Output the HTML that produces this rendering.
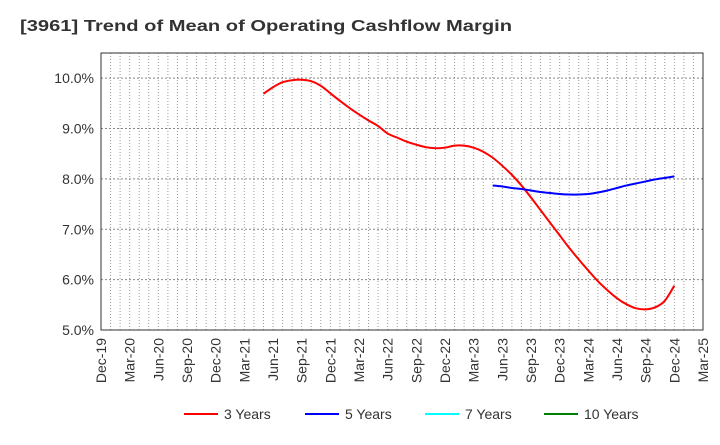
<!DOCTYPE html>
<html><head><meta charset="utf-8"><style>
body{margin:0;background:#fff;font-family:"Liberation Sans",sans-serif}
svg text{font-family:"Liberation Sans",sans-serif}
</style></head><body>
<svg id="chart" width="720" height="440">
<text x="20" y="31" font-size="16" font-weight="bold" fill="#333" textLength="492" lengthAdjust="spacingAndGlyphs">[3961]  Trend of Mean of Operating Cashflow Margin</text>
<g id="grid"></g><g id="axes"></g><g id="series"></g><g id="legend"></g>
</svg>
<script>
const xLabels=["Dec-19","Mar-20","Jun-20","Sep-20","Dec-20","Mar-21","Jun-21","Sep-21","Dec-21","Mar-22","Jun-22","Sep-22","Dec-22","Mar-23","Jun-23","Sep-23","Dec-23","Mar-24","Jun-24","Sep-24","Dec-24","Mar-25"];
const yTicks=[5,6,7,8,9,10];
const yTickLabels=["5.0%","6.0%","7.0%","8.0%","9.0%","10.0%"];
const seriesNames=["3 Years","5 Years","7 Years","10 Years"];
const seriesColors=["#ff0000","#0000ff","#00ffff","#008000"];
const red3Start=17;
const red3=[9.69,9.82,9.92,9.96,9.97,9.94,9.85,9.70,9.55,9.41,9.28,9.16,9.05,8.90,8.82,8.74,8.68,8.63,8.61,8.62,8.66,8.66,8.62,8.54,8.42,8.26,8.08,7.87,7.63,7.38,7.13,6.88,6.63,6.40,6.18,5.97,5.79,5.63,5.51,5.43,5.41,5.45,5.58,5.88];
const blue5Start=41;
const blue5=[7.87,7.85,7.82,7.80,7.77,7.74,7.72,7.70,7.69,7.69,7.70,7.73,7.77,7.82,7.87,7.91,7.95,7.99,8.02,8.05];
const L=101,R=703,T=53,B=330,yMin=5,yMax=10.5,months=63;
const X=m=>L+(R-L)*m/months, Y=v=>B-(B-T)*(v-yMin)/(yMax-yMin);
const ns="http://www.w3.org/2000/svg";
function mk(p,t,a){const e=document.createElementNS(ns,t);for(const k in a)e.setAttribute(k,a[k]);p.appendChild(e);return e;}
const grid=document.getElementById('grid'),axes=document.getElementById('axes'),ser=document.getElementById('series'),leg=document.getElementById('legend');
for(let m=1;m<months;m++){const l=mk(grid,'line',{x1:X(m),x2:X(m),y1:T,y2:B,stroke:'#999','stroke-dasharray':'1,2','stroke-width':1});

}
yTicks.forEach((v,i)=>{const l=mk(grid,'line',{x1:L,x2:R,y1:Y(v),y2:Y(v),stroke:'#888','stroke-dasharray':'2,2'});


const t=mk(axes,'text',{x:L-7,y:Y(v)+5,'text-anchor':'end','font-size':14,fill:'#333'});t.textContent=yTickLabels[i];

});
const fr=mk(axes,'rect',{x:L,y:T,width:R-L,height:B-T,fill:'none',stroke:'#333'});


xLabels.forEach((s,i)=>{const x=X(i*3);const t=mk(axes,'text',{x:x+5,y:B+8,'text-anchor':'end','font-size':14,fill:'#333',transform:`rotate(-90 ${x+5} ${B+8})`});t.textContent=s;

});
function path(vals,start){const p=vals.map((v,i)=>[X(start+i),Y(v)]);let d=`M${p[0][0]},${p[0][1]}`;
for(let i=0;i<p.length-1;i++){const p0=p[i-1]||p[i],p1=p[i],p2=p[i+1],p3=p[i+2]||p2;
d+=` C${p1[0]+(p2[0]-p0[0])/6},${p1[1]+(p2[1]-p0[1])/6} ${p2[0]-(p3[0]-p1[0])/6},${p2[1]-(p3[1]-p1[1])/6} ${p2[0]},${p2[1]}`;}return d;}
const s1=mk(ser,'path',{d:path(red3,red3Start),fill:'none',stroke:seriesColors[0],'stroke-width':2});


const s2=mk(ser,'path',{d:path(blue5,blue5Start),fill:'none',stroke:seriesColors[1],'stroke-width':2});


const lx=[184,305,425,544];
seriesNames.forEach((n,i)=>{const g=mk(leg,'g',{});


mk(g,'line',{x1:lx[i],x2:lx[i]+34,y1:414,y2:414,stroke:seriesColors[i],'stroke-width':2});
const t=mk(g,'text',{x:lx[i]+40,y:419,'font-size':14,fill:'#333'});t.textContent=n;});
</script>
</body></html>
